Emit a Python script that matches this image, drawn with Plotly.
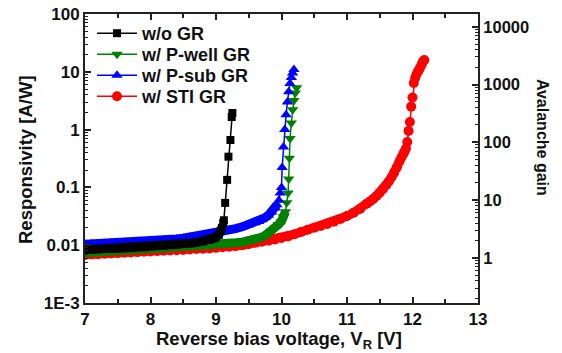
import plotly.graph_objects as go

# ---------------- data ----------------
x_wo = [7.0, 7.1, 7.2, 7.3, 7.4, 7.5, 7.6, 7.7, 7.8, 7.9, 8.0, 8.1, 8.2, 8.3, 8.4, 8.5,
        8.6, 8.7, 8.8, 8.9, 8.95, 9.0, 9.04, 9.07, 9.09, 9.11, 9.12, 9.14, 9.17, 9.19,
        9.22, 9.24, 9.25]
y_wo = [0.0083, 0.0084, 0.0085, 0.0086, 0.0087, 0.0087, 0.0088, 0.0089, 0.0091, 0.0092,
        0.0094, 0.0096, 0.0098, 0.0100, 0.0102, 0.0105, 0.0108, 0.0111, 0.0116, 0.0124,
        0.0130, 0.0137, 0.0150, 0.0175, 0.0200, 0.0240, 0.0270, 0.054, 0.135, 0.34,
        0.66, 1.65, 1.94]

x_pwell = [7.0, 7.1, 7.2, 7.3, 7.4, 7.5, 7.6, 7.7, 7.8, 7.9, 8.0, 8.1, 8.2, 8.3, 8.4, 8.5,
           8.6, 8.7, 8.8, 8.9, 9.0, 9.1, 9.2, 9.3, 9.4, 9.5, 9.6, 9.7, 9.75, 9.8, 9.85,
           9.9, 9.95, 10.0, 10.03, 10.06, 10.08, 10.1, 10.11, 10.12, 10.13, 10.15, 10.17,
           10.19, 10.21, 10.23]
y_pwell = [0.0074, 0.0075, 0.0076, 0.0077, 0.0078, 0.0079, 0.0080, 0.0081, 0.0083, 0.0084,
           0.0085, 0.0086, 0.0087, 0.0089, 0.0090, 0.0092, 0.0093, 0.0095, 0.0097, 0.0099,
           0.0101, 0.0104, 0.0107, 0.0110, 0.0113, 0.0117, 0.0125, 0.0137, 0.0147, 0.0160,
           0.0175, 0.0195, 0.0225, 0.0260, 0.0310, 0.0380, 0.054, 0.080, 0.14, 0.32, 0.70,
           1.3, 2.2, 3.2, 4.3, 5.3]

x_psub = [7.0, 7.1, 7.2, 7.3, 7.4, 7.5, 7.6, 7.7, 7.8, 7.9, 8.0, 8.1, 8.2, 8.3, 8.4, 8.5,
          8.6, 8.7, 8.8, 8.9, 9.0, 9.1, 9.2, 9.3, 9.4, 9.5, 9.6, 9.65, 9.7, 9.75, 9.8,
          9.85, 9.9, 9.93, 9.96, 9.98, 10.0, 10.01, 10.03, 10.05, 10.07, 10.09, 10.11,
          10.13, 10.15, 10.17, 10.19]
y_psub = [0.0104, 0.0105, 0.0106, 0.0107, 0.0108, 0.0109, 0.0110, 0.0111, 0.0113, 0.0114,
          0.0116, 0.0119, 0.0122, 0.0125, 0.0128, 0.0132, 0.0137, 0.0142, 0.0148, 0.0155,
          0.0163, 0.0172, 0.0182, 0.0194, 0.0208, 0.0225, 0.0245, 0.0258, 0.0275, 0.0300,
          0.0330, 0.0375, 0.0440, 0.0500, 0.0600, 0.0800, 0.10, 0.22, 0.50, 1.0, 1.8, 3.0,
          4.5, 6.3, 8.0, 9.5, 11.0]

x_sti = [7.0, 7.1, 7.2, 7.3, 7.4, 7.5, 7.6, 7.7, 7.8, 7.9, 8.0, 8.1, 8.2, 8.3, 8.4, 8.5,
         8.6, 8.7, 8.8, 8.9, 9.0, 9.1, 9.2, 9.3, 9.4, 9.5, 9.6, 9.7, 9.8, 9.9, 10.0, 10.1,
         10.2, 10.3, 10.4, 10.5, 10.6, 10.7, 10.8, 10.9, 11.0, 11.1, 11.2, 11.3, 11.35,
         11.4, 11.45, 11.5, 11.55, 11.6, 11.64, 11.68, 11.72, 11.76, 11.8, 11.83, 11.86,
         11.88, 11.9, 11.92, 11.94, 11.96, 11.98, 12.0, 12.02, 12.04, 12.06, 12.08, 12.1,
         12.12, 12.14, 12.16, 12.18]
y_sti = [0.0068, 0.0069, 0.0070, 0.0071, 0.0072, 0.0073, 0.0074, 0.0075, 0.0076, 0.0077,
         0.0078, 0.0079, 0.0080, 0.0081, 0.0082, 0.0083, 0.0084, 0.0086, 0.0087, 0.0088,
         0.0090, 0.0092, 0.0094, 0.0096, 0.0100, 0.0105, 0.0110, 0.0115, 0.0120, 0.0126,
         0.0133, 0.0142, 0.0155, 0.0170, 0.0185, 0.0200, 0.0215, 0.0232, 0.0255, 0.0285,
         0.0320, 0.0365, 0.0425, 0.0520, 0.0570, 0.0630, 0.0710, 0.0810, 0.0940, 0.110,
         0.128, 0.150, 0.180, 0.220, 0.280, 0.330, 0.380, 0.420, 0.470, 0.610, 0.95, 1.35,
         2.5, 3.6, 6.4, 7.8, 9.0, 10.0, 10.8, 12.0, 13.5, 15.0, 16.0]

left_tickvals = [1e-3, 0.01, 0.1, 1, 10, 100]
left_ticktext = ["1E-3", "0.01", "0.1", "1", "10", "100"]
right_tickvals = [1, 10, 100, 1000, 10000]
right_ticktext = ["1", "10", "100", "1000", "10000"]
x_tickvals = [7, 8, 9, 10, 11, 12, 13]

# name, x, y, colour, symbol, size, legend row, dense-band limit
series = [
    ("w/ STI GR", x_sti, y_sti, "#FF0000", "circle", 10, 4, 0.40),
    ("w/ P-well GR", x_pwell, y_pwell, "#008000", "triangle-down", 10, 2, 0.045),
    ("w/ P-sub GR", x_psub, y_psub, "#0000FF", "triangle-up", 10, 3, 0.05),
    ("w/o GR", x_wo, y_wo, "#000000", "square", 8, 1, 0.021),
]

FONT = "Liberation Sans, Arial, sans-serif"
TXT = "#111111"
AX = "#222222"
W, H = 562, 353
ML, MR, MT, MB = 85, 84, 14, 50
PW, PH = W - ML - MR, H - MT - MB

def px_x(px):
    return (px - ML) / PW

def px_y(py):
    return (H - MB - py) / PH

fig = go.Figure()
legend_top_px = {1: 15, 2: 36, 3: 57, 4: 78}
for name, xs, ys, col, sym, sz, row, lim in series:
    bx = [a for a, b in zip(xs, ys) if b <= lim]
    by = [b for b in ys if b <= lim]
    # thick band where the measured points are packed densely
    fig.add_trace(go.Scatter(x=bx, y=by, mode="lines", showlegend=False,
                             line=dict(color=col, width=9), hoverinfo="skip"))
    fig.add_trace(go.Scatter(
        x=xs, y=ys, name="<b>%s</b>" % name, mode="lines+markers",
        legend="legend" if row == 1 else "legend%d" % row,
        line=dict(color=col, width=1.5),
        marker=dict(symbol=sym, size=sz, color=col, line=dict(width=0)),
    ))

# invisible trace to anchor the right axis
fig.add_trace(go.Scatter(x=[7], y=[1], yaxis="y2", mode="markers",
                         marker=dict(opacity=0), showlegend=False, hoverinfo="skip"))

def minor_log(lo, hi):
    vals = []
    for e in range(lo, hi):
        for m in range(2, 10):
            vals.append(m * 10 ** e)
    return vals

def legend_cfg(ypx):
    return dict(x=px_x(92), y=px_y(ypx),
                xanchor="left", yanchor="top", itemwidth=40,
                bgcolor="rgba(0,0,0,0)", borderwidth=0,
                font=dict(size=18, family=FONT, color=TXT))

fig.update_layout(
    width=W, height=H,
    margin=dict(l=ML, r=MR, t=MT, b=MB, autoexpand=False),
    paper_bgcolor="white", plot_bgcolor="white",
    font=dict(family=FONT, size=17, color=TXT),
    showlegend=True,
    legend=legend_cfg(legend_top_px[1]),
    legend2=legend_cfg(legend_top_px[2]),
    legend3=legend_cfg(legend_top_px[3]),
    legend4=legend_cfg(legend_top_px[4]),
    xaxis=dict(
        range=[7, 13], tickmode="array", tickvals=x_tickvals,
        ticktext=["<b>%d</b>" % v for v in x_tickvals],
        ticks="inside", ticklen=6, tickwidth=1.5, tickcolor=AX,
        showline=True, linecolor=AX, linewidth=2, mirror="ticks",
        showgrid=False, zeroline=False, automargin=False,
        tickfont=dict(size=17, family=FONT, color=TXT),
        minor=dict(tickvals=[7.5, 8.5, 9.5, 10.5, 11.5, 12.5], ticks="inside",
                   ticklen=4, tickwidth=1.5, tickcolor=AX, showgrid=False),
    ),
    yaxis=dict(
        type="log", range=[-3, 2], tickmode="array",
        tickvals=left_tickvals, ticktext=["<b>%s</b>" % t for t in left_ticktext],
        ticks="inside", ticklen=6, tickwidth=1.5, tickcolor=AX,
        showline=True, linecolor=AX, linewidth=2,
        showgrid=False, zeroline=False, automargin=False,
        tickfont=dict(size=17, family=FONT, color=TXT),
        minor=dict(tickvals=minor_log(-3, 2), ticks="inside", ticklen=3,
                   tickwidth=1, tickcolor=AX, showgrid=False),
    ),
    yaxis2=dict(
        type="log", range=[-0.78, 4.22], overlaying="y", side="right",
        tickmode="array", tickvals=right_tickvals,
        ticktext=["<b>%s</b>" % t for t in right_ticktext],
        ticks="inside", ticklen=6, tickwidth=1.5, tickcolor=AX,
        showline=True, linecolor=AX, linewidth=2,
        showgrid=False, zeroline=False, automargin=False,
        tickfont=dict(size=16.5, family=FONT, color=TXT),
        minor=dict(tickvals=minor_log(-1, 4), ticks="inside", ticklen=3,
                   tickwidth=1, tickcolor=AX, showgrid=False),
    ),
)

# axis titles as annotations at the reference positions
fig.add_annotation(text="<b>Reverse bias voltage, V<sub>R</sub> [V]</b>",
                   xref="paper", yref="paper", x=px_x(279), y=px_y(340),
                   xanchor="center", yanchor="middle", showarrow=False,
                   font=dict(size=18.5, family=FONT, color=TXT))
fig.add_annotation(text="<b>Responsivity [A/W]</b>",
                   xref="paper", yref="paper", x=px_x(25), y=px_y(160),
                   xanchor="center", yanchor="middle", textangle=-90, showarrow=False,
                   font=dict(size=18.5, family=FONT, color=TXT))
fig.add_annotation(text="<b>Avalanche gain</b>", xref="paper", yref="paper",
                   x=px_x(543), y=px_y(137), xanchor="center", yanchor="middle",
                   textangle=90, showarrow=False,
                   font=dict(size=16, family=FONT, color=TXT))

fig.write_html("out.html",
               config={"displayModeBar": False},
               post_script="document.body.style.margin='0px';"
                           "document.body.style.padding='0px';")
